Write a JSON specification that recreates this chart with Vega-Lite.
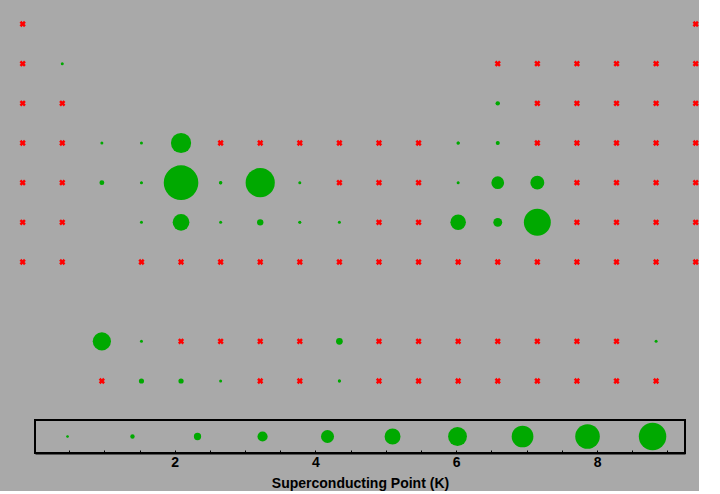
{
  "$schema": "https://vega.github.io/schema/vega-lite/v6.json",
  "background": "#a9a9a9",
  "padding": {"left": 19, "top": 20, "right": 0, "bottom": 0},
  "config": {"font": "Liberation Sans", "view": {"stroke": null}},
  "bounds": "flush",
  "spacing": 39,
  "resolve": {"scale": {"size": "independent"}},
  "datasets": {
    "elements": [
      {"el": "H", "col": 1, "row": 1, "tc": null},
      {"el": "He", "col": 18, "row": 1, "tc": null},
      {"el": "Li", "col": 1, "row": 2, "tc": null},
      {"el": "Be", "col": 2, "row": 2, "tc": 0.026},
      {"el": "B", "col": 13, "row": 2, "tc": null},
      {"el": "C", "col": 14, "row": 2, "tc": null},
      {"el": "N", "col": 15, "row": 2, "tc": null},
      {"el": "O", "col": 16, "row": 2, "tc": null},
      {"el": "F", "col": 17, "row": 2, "tc": null},
      {"el": "Ne", "col": 18, "row": 2, "tc": null},
      {"el": "Na", "col": 1, "row": 3, "tc": null},
      {"el": "Mg", "col": 2, "row": 3, "tc": null},
      {"el": "Al", "col": 13, "row": 3, "tc": 1.18},
      {"el": "Si", "col": 14, "row": 3, "tc": null},
      {"el": "P", "col": 15, "row": 3, "tc": null},
      {"el": "S", "col": 16, "row": 3, "tc": null},
      {"el": "Cl", "col": 17, "row": 3, "tc": null},
      {"el": "Ar", "col": 18, "row": 3, "tc": null},
      {"el": "K", "col": 1, "row": 4, "tc": null},
      {"el": "Ca", "col": 2, "row": 4, "tc": null},
      {"el": "Sc", "col": 3, "row": 4, "tc": 0.01},
      {"el": "Ti", "col": 4, "row": 4, "tc": 0.39},
      {"el": "V", "col": 5, "row": 4, "tc": 5.4},
      {"el": "Cr", "col": 6, "row": 4, "tc": null},
      {"el": "Mn", "col": 7, "row": 4, "tc": null},
      {"el": "Fe", "col": 8, "row": 4, "tc": null},
      {"el": "Co", "col": 9, "row": 4, "tc": null},
      {"el": "Ni", "col": 10, "row": 4, "tc": null},
      {"el": "Cu", "col": 11, "row": 4, "tc": null},
      {"el": "Zn", "col": 12, "row": 4, "tc": 0.85},
      {"el": "Ga", "col": 13, "row": 4, "tc": 1.08},
      {"el": "Ge", "col": 14, "row": 4, "tc": null},
      {"el": "As", "col": 15, "row": 4, "tc": null},
      {"el": "Se", "col": 16, "row": 4, "tc": null},
      {"el": "Br", "col": 17, "row": 4, "tc": null},
      {"el": "Kr", "col": 18, "row": 4, "tc": null},
      {"el": "Rb", "col": 1, "row": 5, "tc": null},
      {"el": "Sr", "col": 2, "row": 5, "tc": null},
      {"el": "Y", "col": 3, "row": 5, "tc": 1.3},
      {"el": "Zr", "col": 4, "row": 5, "tc": 0.55},
      {"el": "Nb", "col": 5, "row": 5, "tc": 9.25},
      {"el": "Mo", "col": 6, "row": 5, "tc": 0.92},
      {"el": "Tc", "col": 7, "row": 5, "tc": 7.8},
      {"el": "Ru", "col": 8, "row": 5, "tc": 0.49},
      {"el": "Rh", "col": 9, "row": 5, "tc": null},
      {"el": "Pd", "col": 10, "row": 5, "tc": null},
      {"el": "Ag", "col": 11, "row": 5, "tc": null},
      {"el": "Cd", "col": 12, "row": 5, "tc": 0.52},
      {"el": "In", "col": 13, "row": 5, "tc": 3.41},
      {"el": "Sn", "col": 14, "row": 5, "tc": 3.72},
      {"el": "Sb", "col": 15, "row": 5, "tc": null},
      {"el": "Te", "col": 16, "row": 5, "tc": null},
      {"el": "I", "col": 17, "row": 5, "tc": null},
      {"el": "Xe", "col": 18, "row": 5, "tc": null},
      {"el": "Cs", "col": 1, "row": 6, "tc": null},
      {"el": "Ba", "col": 2, "row": 6, "tc": null},
      {"el": "Hf", "col": 4, "row": 6, "tc": 0.13},
      {"el": "Ta", "col": 5, "row": 6, "tc": 4.47},
      {"el": "W", "col": 6, "row": 6, "tc": 0.015},
      {"el": "Re", "col": 7, "row": 6, "tc": 1.7},
      {"el": "Os", "col": 8, "row": 6, "tc": 0.66},
      {"el": "Ir", "col": 9, "row": 6, "tc": 0.11},
      {"el": "Pt", "col": 10, "row": 6, "tc": null},
      {"el": "Au", "col": 11, "row": 6, "tc": null},
      {"el": "Hg", "col": 12, "row": 6, "tc": 4.15},
      {"el": "Tl", "col": 13, "row": 6, "tc": 2.38},
      {"el": "Pb", "col": 14, "row": 6, "tc": 7.2},
      {"el": "Bi", "col": 15, "row": 6, "tc": null},
      {"el": "Po", "col": 16, "row": 6, "tc": null},
      {"el": "At", "col": 17, "row": 6, "tc": null},
      {"el": "Rn", "col": 18, "row": 6, "tc": null},
      {"el": "Fr", "col": 1, "row": 7, "tc": null},
      {"el": "Ra", "col": 2, "row": 7, "tc": null},
      {"el": "Rf", "col": 4, "row": 7, "tc": null},
      {"el": "Db", "col": 5, "row": 7, "tc": null},
      {"el": "Sg", "col": 6, "row": 7, "tc": null},
      {"el": "Bh", "col": 7, "row": 7, "tc": null},
      {"el": "Hs", "col": 8, "row": 7, "tc": null},
      {"el": "Mt", "col": 9, "row": 7, "tc": null},
      {"el": "Ds", "col": 10, "row": 7, "tc": null},
      {"el": "Rg", "col": 11, "row": 7, "tc": null},
      {"el": "Cn", "col": 12, "row": 7, "tc": null},
      {"el": "Nh", "col": 13, "row": 7, "tc": null},
      {"el": "Fl", "col": 14, "row": 7, "tc": null},
      {"el": "Mc", "col": 15, "row": 7, "tc": null},
      {"el": "Lv", "col": 16, "row": 7, "tc": null},
      {"el": "Ts", "col": 17, "row": 7, "tc": null},
      {"el": "Og", "col": 18, "row": 7, "tc": null},
      {"el": "La", "col": 3, "row": 9, "tc": 4.88},
      {"el": "Ce", "col": 4, "row": 9, "tc": 0.022},
      {"el": "Pr", "col": 5, "row": 9, "tc": null},
      {"el": "Nd", "col": 6, "row": 9, "tc": null},
      {"el": "Pm", "col": 7, "row": 9, "tc": null},
      {"el": "Sm", "col": 8, "row": 9, "tc": null},
      {"el": "Eu", "col": 9, "row": 9, "tc": 1.8},
      {"el": "Gd", "col": 10, "row": 9, "tc": null},
      {"el": "Tb", "col": 11, "row": 9, "tc": null},
      {"el": "Dy", "col": 12, "row": 9, "tc": null},
      {"el": "Ho", "col": 13, "row": 9, "tc": null},
      {"el": "Er", "col": 14, "row": 9, "tc": null},
      {"el": "Tm", "col": 15, "row": 9, "tc": null},
      {"el": "Yb", "col": 16, "row": 9, "tc": null},
      {"el": "Lu", "col": 17, "row": 9, "tc": 0.1},
      {"el": "Ac", "col": 3, "row": 10, "tc": null},
      {"el": "Th", "col": 4, "row": 10, "tc": 1.38},
      {"el": "Pa", "col": 5, "row": 10, "tc": 1.4},
      {"el": "U", "col": 6, "row": 10, "tc": 0.2},
      {"el": "Np", "col": 7, "row": 10, "tc": null},
      {"el": "Pu", "col": 8, "row": 10, "tc": null},
      {"el": "Am", "col": 9, "row": 10, "tc": 0.8},
      {"el": "Cm", "col": 10, "row": 10, "tc": null},
      {"el": "Bk", "col": 11, "row": 10, "tc": null},
      {"el": "Cf", "col": 12, "row": 10, "tc": null},
      {"el": "Es", "col": 13, "row": 10, "tc": null},
      {"el": "Fm", "col": 14, "row": 10, "tc": null},
      {"el": "Md", "col": 15, "row": 10, "tc": null},
      {"el": "No", "col": 16, "row": 10, "tc": null},
      {"el": "Lr", "col": 17, "row": 10, "tc": null}
    ],
    "legendvals": [
      {"v": 0.477}, {"v": 1.4}, {"v": 2.324}, {"v": 3.248}, {"v": 4.171},
      {"v": 5.095}, {"v": 6.018}, {"v": 6.942}, {"v": 7.865}, {"v": 8.789}
    ]
  },
  "vconcat": [
    {
      "width": 650,
      "height": 357,
      "data": {"name": "elements"},
      "encoding": {
        "x": {"field": "col", "type": "quantitative", "scale": {"domain": [1.311, 17.73], "nice": false, "zero": false}, "axis": null},
        "y": {"field": "row", "type": "quantitative", "scale": {"domain": [1, 10], "reverse": true, "nice": false, "zero": false}, "axis": null}
      },
      "layer": [
        {
          "transform": [{"filter": "datum.tc == null"}],
          "mark": {"type": "point", "shape": "cross", "angle": 45, "filled": true, "size": 40, "color": "#ff0000", "opacity": 1}
        },
        {
          "transform": [{"filter": "datum.tc != null"}],
          "mark": {"type": "circle", "size": 9, "color": "#00a900", "opacity": 1}
        },
        {
          "transform": [{"filter": "datum.tc != null"}],
          "mark": {"type": "circle", "color": "#00a900", "opacity": 1},
          "encoding": {
            "size": {"field": "tc", "type": "quantitative", "scale": {"type": "pow", "exponent": 2, "domain": [0, 9.25], "range": [0, 1197]}, "legend": null}
          }
        }
      ]
    },
    {
      "width": 650,
      "height": 33,
      "view": {"stroke": "black", "strokeWidth": 2},
      "data": {"name": "legendvals"},
      "encoding": {
        "x": {
          "field": "v", "type": "quantitative",
          "scale": {"domain": [0.015, 9.25], "nice": false, "zero": false},
          "axis": {
            "values": [0.5, 1, 1.5, 2, 2.5, 3, 3.5, 4, 4.5, 5, 5.5, 6, 6.5, 7, 7.5, 8, 8.5, 9],
            "labelExpr": "datum.value % 2 === 0 ? format(datum.value, 'd') : ''",
            "labelOverlap": false,
            "labelFlush": false,
            "grid": false,
            "tickSize": -3,
            "tickColor": "black",
            "tickWidth": 1,
            "domain": true,
            "domainColor": "black",
            "domainWidth": 2,
            "labelFont": "Liberation Sans",
            "labelFontWeight": "bold",
            "labelFontSize": 14,
            "labelColor": "black",
            "labelPadding": 5,
            "title": "Superconducting Point (K)",
            "titleFont": "Liberation Sans",
            "titleFontWeight": "bold",
            "titleFontSize": 14,
            "titleColor": "black",
            "titlePadding": 7
          }
        }
      },
      "layer": [
        {"mark": {"type": "circle", "size": 7, "color": "#00a900", "opacity": 1}},
        {
          "mark": {"type": "circle", "color": "#00a900", "opacity": 1},
          "encoding": {
            "size": {"field": "v", "type": "quantitative", "scale": {"type": "pow", "exponent": 2, "domain": [0, 9.25], "range": [0, 837]}, "legend": null}
          }
        }
      ]
    }
  ]
}
